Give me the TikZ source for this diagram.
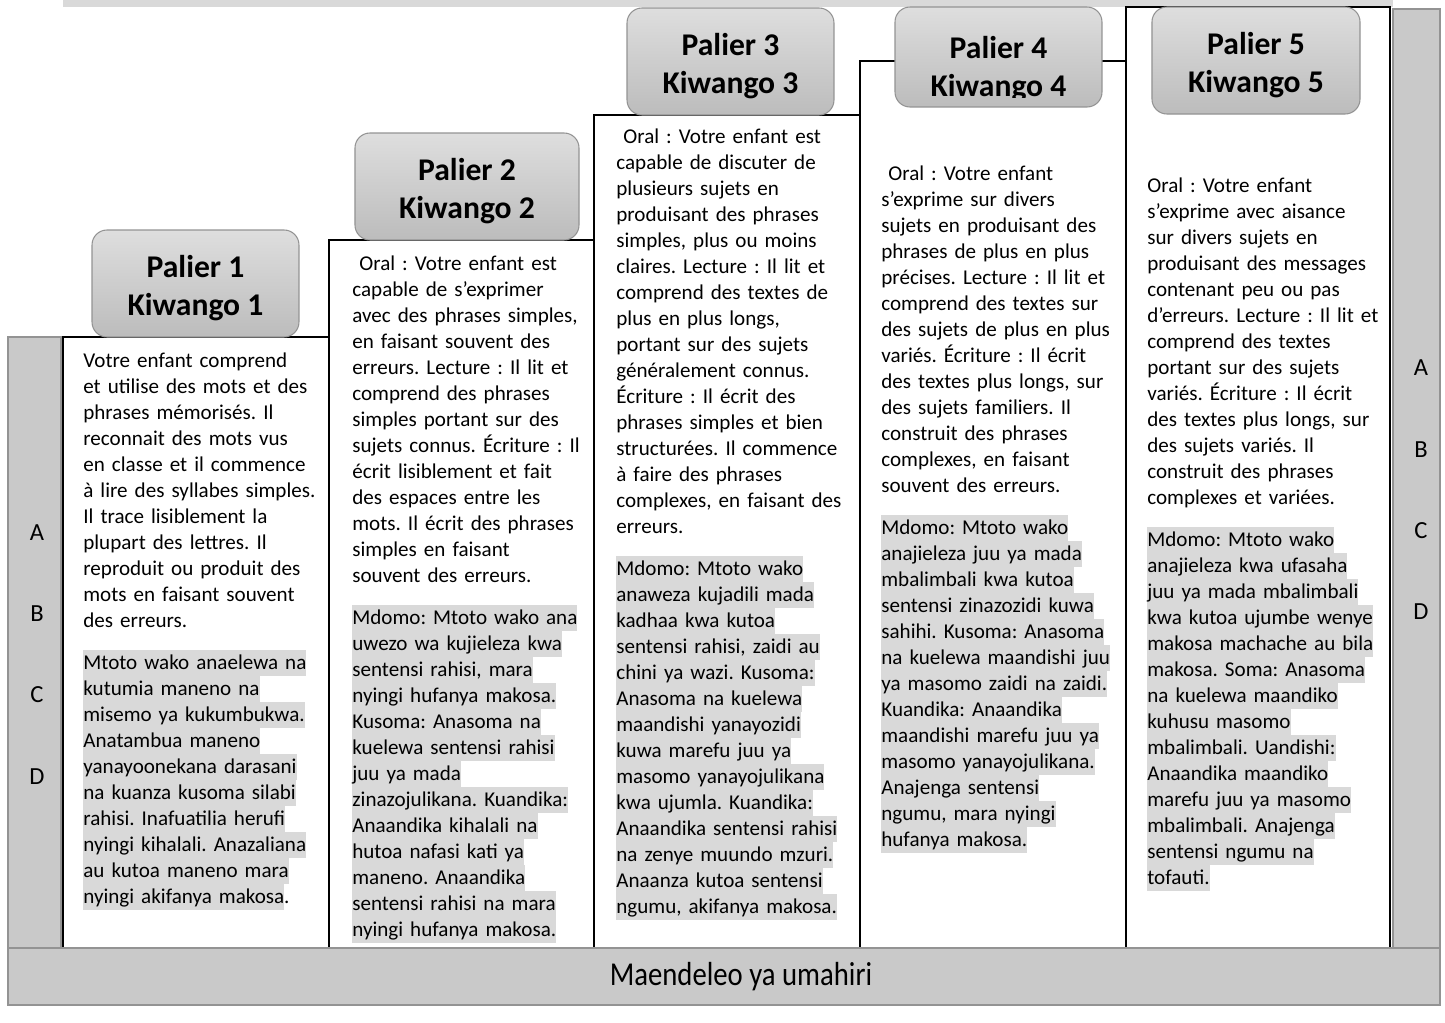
\documentclass[tikz,border=0pt]{standalone}
\usepackage{fontspec}
\setmainfont{Carlito}
\usetikzlibrary{positioning, calc}
\definecolor{hlgray}{HTML}{D9D9D9}
\definecolor{bargray}{HTML}{C9C9C9}
\definecolor{edgegray}{HTML}{939393}
\definecolor{hdtop}{HTML}{DEDEDE}
\definecolor{hdbot}{HTML}{BCBCBC}
\frenchspacing
% grey highlight behind one line of Swahili text
\newcommand{\hlline}[1]{{\setlength{\fboxsep}{0pt}\colorbox{hlgray}{\rule[-3.8pt]{0pt}{14.8pt}#1}}}

\begin{document}
\begin{tikzpicture}[
    x=0.02cm, y=-0.02cm, % 1 unit = 1 px, y pointing down
    every node/.style={font=\fontsize{12}{14.8}\selectfont}, % body text
    colbox/.style={draw=black, line width=1.1pt, fill=white}, % step columns
    sidebar/.style={draw=edgegray, line width=0.7pt, fill=bargray}, % grey bars
    palier/.style={draw=edgegray, line width=0.6pt, rounded corners=8.5pt,
        top color=hdtop, bottom color=hdbot, minimum height=60.9pt, inner sep=0pt},
    paltext/.style={align=center, inner sep=0pt, font=\fontsize{18}{21.6}\selectfont\bfseries},
    para/.style={anchor=base west, inner sep=0pt, text width=140pt, align=left},
    sidelet/.style={font=\fontsize{14}{16}\selectfont, inner sep=0pt}
]
    \useasboundingbox (0,0) rectangle (1445,1022);

    % 1. grey strip on top, side bars
    \fill[hlgray] (63,0) rectangle (1393,7);
    \draw[sidebar] (8,337) rectangle (61,948);
    \draw[sidebar] (1393,9) rectangle (1440,948);

    % 2. the five columns (steps)
    \draw[colbox] (63,337) rectangle (329,948);
    \draw[colbox] (329,240) rectangle (594,948);
    \draw[colbox] (594,115) rectangle (860,948);
    \draw[colbox] (860,61) rectangle (1126,948);
    \draw[colbox] (1126,7) rectangle (1390,948);

    % 3. headers Palier / Kiwango
    \foreach \n/\cx/\cy/\w in {1/195.5/283.5/117.8, 2/467/186.5/127.5, 3/730.5/61.5/117.8, 5/1256/60.5/118.4} {
        \node[palier, minimum width=\w pt] (p\n) at (\cx,\cy) {};
        \node[paltext] (pt\n) at ([yshift=-2.5pt]p\n.center) {Palier \n\\Kiwango \n};
    }
    % header 4: text runs out of the box and is cut
    \node[palier, minimum width=117.8pt, minimum height=56.9pt] (p4) at (998.5,57) {};
    \begin{scope}
        \clip (895,7) rectangle (1102,97);
        \node[paltext] (pt4) at ([yshift=-2.5pt]998.5,64.5) {Palier 4\\Kiwango 4};
    \end{scope}

    % 4. column 1
    \node[para] (fr1) at (83,367) {Votre enfant comprend\\
        et utilise des mots et des\\
        phrases mémorisés. Il\\
        reconnait des mots vus\\
        en classe et il commence\\
        à lire des syllabes simples.\\
        Il trace lisiblement la\\
        plupart des lettres. Il\\
        reproduit ou produit des\\
        mots en faisant souvent\\
        des erreurs.};
    \node[para] (sw1) at (83,669) {\hlline{Mtoto wako anaelewa na}\\
        \hlline{kutumia maneno na}\\
        \hlline{misemo ya kukumbukwa.}\\
        \hlline{Anatambua maneno}\\
        \hlline{yanayoonekana darasani}\\
        \hlline{na kuanza kusoma silabi}\\
        \hlline{rahisi. Inafuatilia herufi}\\
        \hlline{nyingi kihalali. Anazaliana}\\
        \hlline{au kutoa maneno mara}\\
        \hlline{nyingi akifanya makosa}.};

    % 5. column 2
    \node[para] (fr2) at (352,270) {\ Oral : Votre enfant est\\
        capable de s’exprimer\\
        avec des phrases simples,\\
        en faisant souvent des\\
        erreurs. Lecture : Il lit et\\
        comprend des phrases\\
        simples portant sur des\\
        sujets connus. Écriture : Il\\
        écrit lisiblement et fait\\
        des espaces entre les\\
        mots. Il écrit des phrases\\
        simples en faisant\\
        souvent des erreurs.};
    \node[para] (sw2) at (352,624) {\hlline{Mdomo: Mtoto wako ana}\\
        \hlline{uwezo wa kujieleza kwa}\\
        \hlline{sentensi rahisi, mara}\\
        \hlline{nyingi hufanya makosa.}\\
        \hlline{Kusoma: Anasoma na}\\
        \hlline{kuelewa sentensi rahisi}\\
        \hlline{juu ya mada}\\
        \hlline{zinazojulikana. Kuandika:}\\
        \hlline{Anaandika kihalali na}\\
        \hlline{hutoa nafasi kati ya}\\
        \hlline{maneno. Anaandika}\\
        \hlline{sentensi rahisi na mara}\\
        \hlline{nyingi hufanya makosa.}};

    % 6. column 3
    \node[para] (fr3) at (616,143) {\ Oral : Votre enfant est\\
        capable de discuter de\\
        plusieurs sujets en\\
        produisant des phrases\\
        simples, plus ou moins\\
        claires. Lecture : Il lit et\\
        comprend des textes de\\
        plus en plus longs,\\
        portant sur des sujets\\
        généralement connus.\\
        Écriture : Il écrit des\\
        phrases simples et bien\\
        structurées. Il commence\\
        à faire des phrases\\
        complexes, en faisant des\\
        erreurs.};
    \node[para] (sw3) at (616,575) {\hlline{Mdomo: Mtoto wako}\\
        \hlline{anaweza kujadili mada}\\
        \hlline{kadhaa kwa kutoa}\\
        \hlline{sentensi rahisi, zaidi au}\\
        \hlline{chini ya wazi. Kusoma:}\\
        \hlline{Anasoma na kuelewa}\\
        \hlline{maandishi yanayozidi}\\
        \hlline{kuwa marefu juu ya}\\
        \hlline{masomo yanayojulikana}\\
        \hlline{kwa ujumla. Kuandika:}\\
        \hlline{Anaandika sentensi rahisi}\\
        \hlline{na zenye muundo mzuri.}\\
        \hlline{Anaanza kutoa sentensi}\\
        \hlline{ngumu, akifanya makosa.}};

    % 7. column 4
    \node[para] (fr4) at (881,180) {\ Oral : Votre enfant\\
        s’exprime sur divers\\
        sujets en produisant des\\
        phrases de plus en plus\\
        précises. Lecture : Il lit et\\
        comprend des textes sur\\
        des sujets de plus en plus\\
        variés. Écriture : Il écrit\\
        des textes plus longs, sur\\
        des sujets familiers. Il\\
        construit des phrases\\
        complexes, en faisant\\
        souvent des erreurs.};
    \node[para] (sw4) at (881,534) {\hlline{Mdomo: Mtoto wako}\\
        \hlline{anajieleza juu ya mada}\\
        \hlline{mbalimbali kwa kutoa}\\
        \hlline{sentensi zinazozidi kuwa}\\
        \hlline{sahihi. Kusoma: Anasoma}\\
        \hlline{na kuelewa maandishi juu}\\
        \hlline{ya masomo zaidi na zaidi.}\\
        \hlline{Kuandika: Anaandika}\\
        \hlline{maandishi marefu juu ya}\\
        \hlline{masomo yanayojulikana.}\\
        \hlline{Anajenga sentensi}\\
        \hlline{ngumu, mara nyingi}\\
        \hlline{hufanya makosa.}};

    % 8. column 5
    \node[para] (fr5) at (1147,192) {Oral : Votre enfant\\
        s’exprime avec aisance\\
        sur divers sujets en\\
        produisant des messages\\
        contenant peu ou pas\\
        d’erreurs. Lecture : Il lit et\\
        comprend des textes\\
        portant sur des sujets\\
        variés. Écriture : Il écrit\\
        des textes plus longs, sur\\
        des sujets variés. Il\\
        construit des phrases\\
        complexes et variées.};
    \node[para] (sw5) at (1147,546) {\hlline{Mdomo: Mtoto wako}\\
        \hlline{anajieleza kwa ufasaha}\\
        \hlline{juu ya mada mbalimbali}\\
        \hlline{kwa kutoa ujumbe wenye}\\
        \hlline{makosa machache au bila}\\
        \hlline{makosa. Soma: Anasoma}\\
        \hlline{na kuelewa maandiko}\\
        \hlline{kuhusu masomo}\\
        \hlline{mbalimbali. Uandishi:}\\
        \hlline{Anaandika maandiko}\\
        \hlline{marefu juu ya masomo}\\
        \hlline{mbalimbali. Anajenga}\\
        \hlline{sentensi ngumu na}\\
        \hlline{tofauti.}};

    % 9. letters A-D on both side bars
    \foreach \l/\yl/\yr in {A/533/368, B/614/450, C/695/531, D/777/612} {
        \node[sidelet] (left\l) at (37,\yl) {\l};
        \node[sidelet] (right\l) at (1421,\yr) {\l};
    }

    % 10. bottom bar
    \draw[sidebar] (8,948) rectangle (1440,1005);
    \node (umahiri) at (741,976.5) {\scalebox{0.86}[1]{\fontsize{19}{23}\selectfont Maendeleo ya umahiri}};

\end{tikzpicture}
\end{document}
